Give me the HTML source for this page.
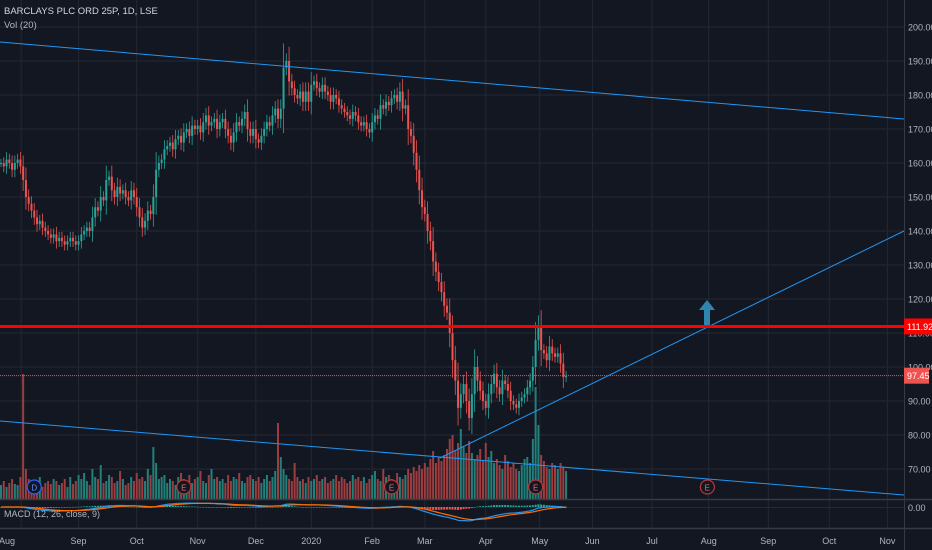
<!DOCTYPE html>
<html><head><meta charset="utf-8">
<style>
html,body{margin:0;padding:0;background:#131722;}
svg{display:block;font-family:"Liberation Sans",sans-serif;}
</style></head>
<body>
<svg id="chart" width="932" height="550" viewBox="0 0 932 550" xmlns="http://www.w3.org/2000/svg">
<rect x="0" y="0" width="932" height="550" fill="#131722"/>
<g id="grid"></g>
<g id="vol"></g>
<g id="candles"></g>
<g id="macd"></g>
<g id="draw"></g>
<g id="axis"></g>
<text x="4" y="14" fill="#d1d4dc" font-size="9.5">BARCLAYS PLC ORD 25P, 1D, LSE</text>
<text x="4" y="28" fill="#b2b5be" font-size="9.5">Vol (20)</text>
<text x="4" y="517" fill="#b2b5be" font-size="9">MACD (12, 26, close, 9)</text>
</svg>
<script>
const closes=[160,159,161,160,158,160,161,159,155,150,
148,146,144,142,143,141,140,139,138,139,
137,138,137,136,137,138,137,136,137,139,
140,141,140,144,147,146,150,149,155,156,
152,150,153,151,152,150,149,152,150,147,
144,141,143,146,145,150,158,160,161,164,
165,166,164,167,168,166,169,170,168,171,
170,171,169,172,174,171,172,173,170,172,
173,170,168,166,169,172,171,173,175,170,
168,170,167,166,168,170,172,171,174,176,
173,176,188,190,184,182,180,179,181,178,
181,178,183,184,182,181,183,181,180,178,
180,179,177,176,175,174,173,175,174,172,
171,172,170,169,172,174,173,177,176,178,
177,179,180,178,181,176,177,170,168,163,
158,152,147,145,140,137,131,128,125,122,
118,116,110,102,96,88,92,95,90,85,
92,100,96,93,90,88,92,95,98,94,
92,96,95,93,90,89,88,90,91,92,
94,96,100,108,112,105,104,102,106,104,
103,104,101,97,97.45];
const volumes=[14,18,12,16,20,15,14,22,125,30,
20,16,18,14,22,12,16,18,15,20,
18,14,16,20,12,22,15,18,24,20,
26,18,14,30,22,20,34,16,18,24,
22,16,18,28,20,14,16,22,18,26,
20,22,18,30,24,52,36,20,22,24,
16,20,18,14,22,26,20,18,24,16,
20,22,28,18,16,24,30,20,22,18,
20,16,24,18,22,20,26,18,16,22,
24,20,18,22,16,20,24,18,22,28,
76,42,30,24,20,18,36,22,18,20,
16,22,18,20,24,18,20,22,16,18,
20,24,18,22,20,16,18,24,20,22,
18,22,16,20,24,28,20,18,30,22,
24,20,18,26,22,20,24,30,26,32,
28,34,30,36,32,40,48,36,42,38,
44,50,60,64,48,56,70,52,46,58,
46,40,44,50,38,56,42,48,36,40,
34,30,44,38,32,36,30,28,34,40,
42,36,60,112,74,44,38,32,30,36,
34,30,36,32,28];
const priceTicks=[200,190,180,170,160,150,140,130,120,110,100,90,80,70];
const monthLabels=["Aug","Sep","Oct","Nov","Dec","2020","Feb","Mar","Apr","May","Jun","Jul","Aug","Sep","Oct","Nov"];
const monthBarIdx=[7.3,28,49,71,92,112,134,153,175,194.5,213.5,235,255.5,277,299,320];
const resistance=111.92;
const lastPrice=97.45;
const earnings=[12,66,141,193,255];

const NS="http://www.w3.org/2000/svg";
function el(tag,attrs,parent){const e=document.createElementNS(NS,tag);for(const k in attrs)e.setAttribute(k,attrs[k]);parent.appendChild(e);return e;}
const xB=i=>1+i*2.77;
const yP=p=>469-(p-70)*3.4;
const yV=v=>499-v;
const grid=document.getElementById('grid'),axis=document.getElementById('axis');
priceTicks.forEach(p=>{
 const l=el('line',{x1:0,x2:904,y1:yP(p),y2:yP(p),stroke:'#242833','stroke-width':1},grid);
 
 
 const t=el('text',{x:908,y:yP(p)+3.5,fill:'#b2b5be','font-size':9},axis);
 t.textContent=p.toFixed(2);
 
 
});
monthLabels.forEach((m,k)=>{
 const x=xB(monthBarIdx[k]);
 const l=el('line',{x1:x,x2:x,y1:0,y2:528,stroke:'#242833','stroke-width':1},grid);
 
 
 const t=el('text',{x:k===0?7:x,y:544,fill:'#b2b5be','font-size':9,'text-anchor':'middle'},axis);
 t.textContent=m;
 
 
});
el('line',{x1:0,x2:932,y1:499.5,y2:499.5,stroke:'#363a45','stroke-width':1.5},axis);
el('line',{x1:0,x2:932,y1:528.5,y2:528.5,stroke:'#363a45','stroke-width':1.5},axis);
el('line',{x1:904.5,x2:904.5,y1:0,y2:550,stroke:'#363a45','stroke-width':1},axis);
el('line',{x1:0,x2:904,y1:507.5,y2:507.5,stroke:'#242833','stroke-width':1},grid);
const zt=el('text',{x:908,y:511,fill:'#b2b5be','font-size':9},axis);zt.textContent='0.00';



const volG=document.getElementById('vol'),cg=document.getElementById('candles');
closes.forEach((c,i)=>{
 const o=i>0?closes[i-1]:c;
 const up=c>=o;
 const v=el('rect',{x:xB(i)-1,y:yV(volumes[i]),width:2,height:volumes[i],fill:up?'#22807a':'#9c3e40'},volG);
 
 
 const wk=1.2+0.5*Math.abs(c-o);
 const hi=Math.max(o,c)+wk,lo=Math.min(o,c)-wk;
 const col=up?'#26a69a':'#ef5350';
 const w=el('line',{x1:xB(i),x2:xB(i),y1:yP(hi),y2:yP(lo),stroke:col,'stroke-width':0.8},cg);
 
 
 const b=el('rect',{x:xB(i)-1,y:yP(Math.max(o,c)),width:2,height:Math.max(1,Math.abs(yP(o)-yP(c))),fill:col},cg);
 
 
});
function ema(a,n){const k=2/(n+1);const r=[];a.forEach((v,i)=>r.push(i?v*k+r[i-1]*(1-k):v));return r;}
const e12=ema(closes,12),e26=ema(closes,26);
const macdLine=e12.map((v,i)=>v-e26[i]);
const sig=ema(macdLine,9);
const mg=document.getElementById('macd');
const yM=v=>507-v*0.7;
macdLine.forEach((m,i)=>{
 const h=m-sig[i];
 const r=el('rect',{x:xB(i)-1,y:Math.min(yM(h),507),width:2,height:Math.max(0.5,Math.abs(yM(h)-507)),fill:h>=0?'#26a69a':'#ef5350'},mg);
 
 
});
const pm=el('polyline',{points:macdLine.map((m,i)=>xB(i)+','+yM(m)).join(' '),fill:'none',stroke:'#2196f3','stroke-width':1.2},mg);


const ps=el('polyline',{points:sig.map((m,i)=>xB(i)+','+yM(m)).join(' '),fill:'none',stroke:'#ff6d00','stroke-width':1.2},mg);



const dg=document.getElementById('draw');
const tl=[[0,42,904,119,'upper-trendline'],[0,421,904,495,'lower-trendline'],[440,458,904,231,'rising-trendline']];
tl.forEach(t=>{const l=el('line',{x1:t[0],y1:t[1],x2:t[2],y2:t[3],stroke:'#2196f3','stroke-width':1},dg);
 
 });
const rl=el('line',{x1:0,x2:904,y1:yP(resistance),y2:yP(resistance),stroke:'#ff0000','stroke-width':3},dg);


const ll=el('line',{x1:0,x2:904,y1:yP(lastPrice),y2:yP(lastPrice),stroke:'#ef5350','stroke-width':1,'stroke-dasharray':'1 1'},dg);


const ar=el('path',{d:'M707 300 L699 310 L704 310 L704 325 L710 325 L710 310 L715 310 Z',fill:'#2e86b0'},dg);


const rb=el('rect',{x:904,y:yP(resistance)-8,width:28,height:16,fill:'#ff0000'},axis);


const rt=el('text',{x:907,y:yP(resistance)+3.5,fill:'#fff','font-size':9},axis);rt.textContent=resistance.toFixed(2);


const lb=el('rect',{x:904,y:yP(lastPrice)-8,width:25,height:16,fill:'#ef5350'},axis);


const lt=el('text',{x:907,y:yP(lastPrice)+3.5,fill:'#fff','font-size':9},axis);lt.textContent=lastPrice.toFixed(2);


earnings.forEach((b,k)=>{
 const x=xB(b);
 const c=el('circle',{cx:x,cy:487,r:7,fill:'#131722',stroke:k===0?'#2962ff':'#b23a3a','stroke-width':1.2},dg);
 
 
 const t=el('text',{x:x,y:490.5,fill:k===0?'#5b8cff':'#e07070','font-size':8,'text-anchor':'middle'},dg);
 t.textContent=k===0?'D':'E';
 
 
});
</script>
</body></html>
